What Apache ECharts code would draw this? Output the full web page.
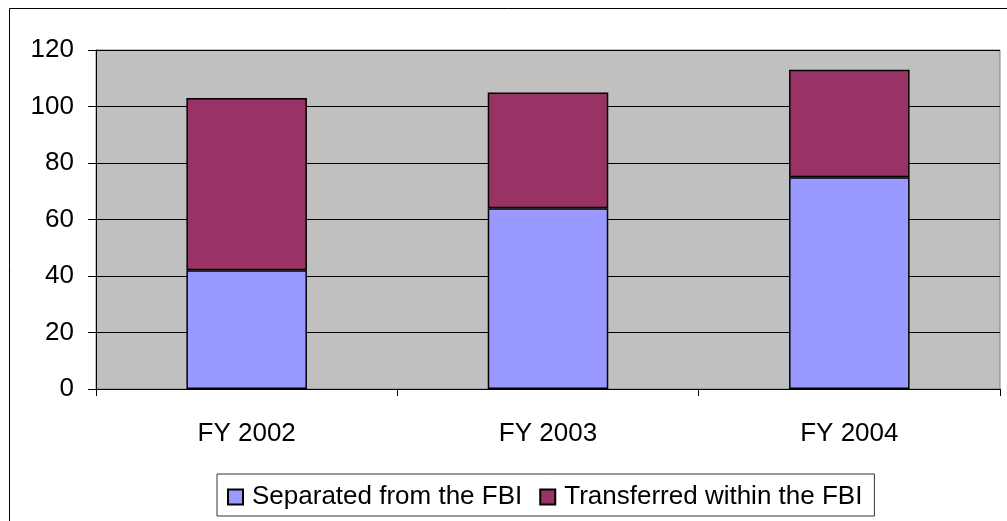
<!DOCTYPE html>
<html>
<head>
<meta charset="utf-8">
<script src="https://cdn.jsdelivr.net/npm/echarts@6/dist/echarts.min.js"></script>
<style>
html,body{margin:0;padding:0;background:#fff;}
#chart{width:1007px;height:521px;}
</style>
</head>
<body>
<div id="chart"></div>
<script>
var categories = ['FY 2002', 'FY 2003', 'FY 2004'];
var separated = [42, 64, 75];
var transferred = [61, 41, 38];
var seriesNames = ['Separated from the FBI', 'Transferred within the FBI'];
var yTicks = {min: 0, max: 120, interval: 20};

var FONT = '"Liberation Sans", Arial, sans-serif';
var chart = echarts.init(document.getElementById('chart'), null, {renderer: 'canvas'});
chart.setOption({
  animation: false,
  backgroundColor: '#ffffff',
  graphic: [{
    type: 'rect',
    shape: {x: 9.5, y: 8.5, width: 1100, height: 600},
    style: {fill: 'none', stroke: '#000', lineWidth: 1},
    silent: true,
    z: -1
  }],
  grid: {
    left: 96, top: 50, right: 7, bottom: 132,
    show: true, backgroundColor: '#C0C0C0', borderColor: '#808080', borderWidth: 1
  },
  legend: {
    left: 217, top: 474,
    padding: [10, 12, 6, 10],
    borderColor: '#333', borderWidth: 1,
    itemWidth: 15, itemHeight: 15, itemGap: 17,
    icon: 'rect',
    textStyle: {fontFamily: FONT, fontSize: 26, color: '#000', padding: [0, 0, 0, 4]},
    data: seriesNames
  },
  xAxis: {
    type: 'category',
    data: categories,
    boundaryGap: true,
    axisLine: {lineStyle: {color: '#000', width: 1}},
    axisTick: {show: true, length: 7, lineStyle: {color: '#000'}},
    axisLabel: {fontFamily: FONT, fontSize: 26, color: '#000', margin: 32}
  },
  yAxis: {
    type: 'value',
    min: yTicks.min, max: yTicks.max, interval: yTicks.interval,
    axisLine: {show: true, lineStyle: {color: '#000', width: 1}},
    axisTick: {show: true, length: 8, lineStyle: {color: '#000'}},
    splitLine: {show: true, lineStyle: {color: '#000', width: 1}},
    axisLabel: {fontFamily: FONT, fontSize: 26, color: '#000', margin: 22}
  },
  series: [{
    name: seriesNames[0], type: 'bar', stack: 'total', barWidth: '40%',
    data: separated,
    itemStyle: {color: '#9999FF', borderColor: '#000', borderWidth: 1.5}
  }, {
    name: seriesNames[1], type: 'bar', stack: 'total', barWidth: '40%',
    data: transferred,
    itemStyle: {color: '#993366', borderColor: '#000', borderWidth: 1.5}
  }]
});
</script>
</body>
</html>
